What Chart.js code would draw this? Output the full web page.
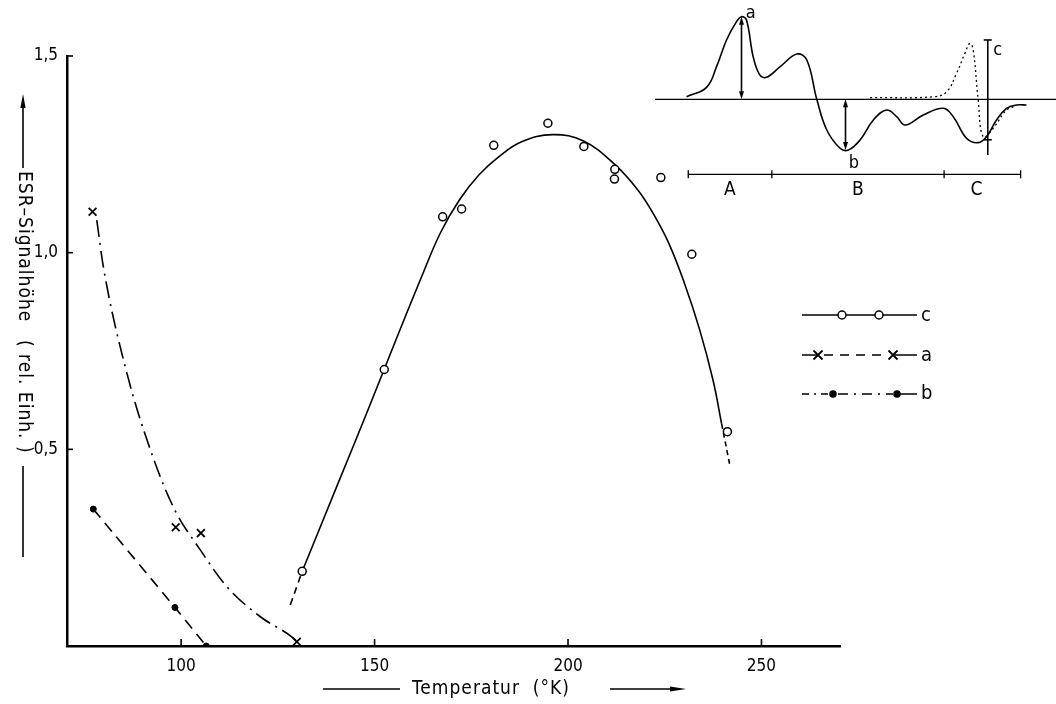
<!DOCTYPE html>
<html><head><meta charset="utf-8">
<script src="https://cdn.jsdelivr.net/npm/chart.js@4.4.1/dist/chart.umd.min.js"></script>
<style>
html,body{margin:0;padding:0;background:#fff;}
#wrap{position:relative;width:1056px;height:704px;background:#fff;}
#main{position:absolute;left:0;top:0;}
#inset{position:absolute;left:640px;top:0;pointer-events:none;}
</style></head><body>
<div id="wrap"><canvas id="main" width="1056" height="704"></canvas><canvas id="inset" width="416" height="200"></canvas></div>
<script>
const FONT = '"Liberation Sans Narrow","DejaVu Sans Condensed","Liberation Sans",Arial,sans-serif';

// ---- main chart data ----
const xTickValues = [100, 150, 200, 250];
const yTickValues = [0.5, 1.0, 1.5];

// series c (open circles)
const cTemp   = [131.3, 152.5, 167.6, 172.5, 180.8, 194.8, 204.1, 212.1, 212.0, 224.0, 232.0, 241.2];
const cSignal = [0.19, 0.703, 1.091, 1.111, 1.273, 1.329, 1.270, 1.212, 1.187, 1.191, 0.996, 0.545];
// fitted curve through c
const cFitTemp   = [131.3, 140, 148, 156, 162, 167, 172, 177, 182, 188, 196, 204, 212, 218, 222, 226, 230, 234, 237.5, 239.7];
const cFitSignal = [0.19, 0.40, 0.593, 0.79, 0.935, 1.05, 1.135, 1.198, 1.243, 1.282, 1.30, 1.284, 1.225, 1.16, 1.10, 1.025, 0.925, 0.805, 0.675, 0.565];
const cLowTemp = [128.2, 131.3],  cLowSignal = [0.104, 0.19];
const cHighTemp = [239.7, 241.9], cHighSignal = [0.565, 0.456];

// series a (crosses)
const aTemp   = [77.1, 98.6, 105.1, 129.9];
const aSignal = [1.104, 0.302, 0.287, 0.011];
const aCurveTemp   = [78.2, 79.9, 86.0, 92.8, 98.4, 104.9, 111.8, 120.4, 129.0, 130.5];
const aCurveSignal = [1.083, 0.964, 0.693, 0.478, 0.345, 0.245, 0.151, 0.075, 0.02, 0.005];

// series b (dots)
const bTemp   = [77.3, 98.4, 106.5];
const bSignal = [0.348, 0.098, 0.0];

const xy = (xs, ys) => xs.map((x, i) => ({x: x, y: ys[i]}));

const lineDs = (data, dash, extra) => Object.assign({
  data: data, showLine: true, pointRadius: 0, borderColor: '#000', borderWidth: 1.6,
  borderDash: dash, fill: false, order: 2, tension: 0.4
}, extra || {});

const mainData = {
  datasets: [
    lineDs(xy(cFitTemp, cFitSignal), []),
    lineDs(xy(cLowTemp, cLowSignal), [7, 5]),
    lineDs(xy(cHighTemp, cHighSignal), [5, 4]),
    lineDs(xy(aCurveTemp, aCurveSignal), [17, 6, 2, 6], {cubicInterpolationMode: 'monotone'}),
    lineDs(xy(bTemp, bSignal), [11, 7], {tension: 0}),
    {data: xy(cTemp, cSignal), showLine: false, pointStyle: 'circle', pointRadius: 4,
     pointBackgroundColor: '#fff', pointBorderColor: '#000', pointBorderWidth: 1.5, order: 0},
    {data: xy(aTemp, aSignal), showLine: false, pointStyle: 'crossRot', pointRadius: 5.5,
     pointBorderColor: '#000', pointBorderWidth: 1.8, order: 0},
    {data: xy(bTemp, bSignal), showLine: false, pointStyle: 'circle', pointRadius: 3,
     pointBackgroundColor: '#000', pointBorderColor: '#000', pointBorderWidth: 1, order: 0}
  ]
};

function arrowHead(ctx, x, y, dx, dy, len, hw) {
  const px = -dy, py = dx;
  ctx.beginPath();
  ctx.moveTo(x, y);
  ctx.lineTo(x - dx * len + px * hw, y - dy * len + py * hw);
  ctx.lineTo(x - dx * len - px * hw, y - dy * len - py * hw);
  ctx.closePath();
  ctx.fill();
}
function drawCross(ctx, x, y, r) {
  ctx.beginPath();
  ctx.moveTo(x - r, y - r); ctx.lineTo(x + r, y + r);
  ctx.moveTo(x - r, y + r); ctx.lineTo(x + r, y - r);
  ctx.stroke();
}
function drawCircle(ctx, x, y, r, fill) {
  ctx.beginPath(); ctx.arc(x, y, r, 0, Math.PI * 2);
  ctx.fillStyle = fill; ctx.fill(); ctx.stroke();
}
function seg(ctx, x1, y1, x2, y2, dash) {
  ctx.save(); ctx.setLineDash(dash || []);
  ctx.beginPath(); ctx.moveTo(x1, y1); ctx.lineTo(x2, y2); ctx.stroke();
  ctx.restore();
}

const decorPlugin = {
  id: 'decor',
  afterDraw(chart) {
    const ctx = chart.ctx, xs = chart.scales.x, ys = chart.scales.y, a = chart.chartArea;
    ctx.save();
    ctx.strokeStyle = '#000'; ctx.fillStyle = '#000'; ctx.lineWidth = 1.6;
    // inward tick marks
    xTickValues.forEach(v => { const p = xs.getPixelForValue(v); seg(ctx, p, a.bottom, p, a.bottom - 7); });
    yTickValues.forEach(v => { const p = ys.getPixelForValue(v); seg(ctx, a.left, p, a.left + 6, p); });

    // y title (rotated clockwise, reads top to bottom)
    const tx = 23;
    ctx.lineWidth = 1.6;
    seg(ctx, tx, 168, tx, 104);
    arrowHead(ctx, tx, 94, 0, -1, 14, 2.6);
    ctx.save();
    ctx.translate(tx + 1, 171); ctx.rotate(Math.PI / 2);
    ctx.font = '19px ' + FONT; ctx.textAlign = 'left'; ctx.textBaseline = 'middle';
    try { ctx.letterSpacing = '1px'; } catch (e) {}
    ctx.fillText('ESR–Signalhöhe', 0, 0);
    ctx.fillText('( rel. Einh. )', 169, 0);
    ctx.restore();
    seg(ctx, tx, 466, tx, 557);

    // x title
    const ty = 689;
    seg(ctx, 323, ty, 400, ty);
    ctx.save();
    ctx.font = '19px ' + FONT; ctx.textAlign = 'center'; ctx.textBaseline = 'middle';
    try { ctx.letterSpacing = '1px'; } catch (e) {}
    ctx.fillText('Temperatur  (°K)', 491, ty);
    ctx.restore();
    seg(ctx, 610, ty, 672, ty);
    arrowHead(ctx, 686, ty, 1, 0, 16, 2.4);

    // legend
    ctx.lineWidth = 1.5;
    const L0 = 802, L1 = 917;
    // c
    let y = 315;
    seg(ctx, L0, y, L1, y);
    drawCircle(ctx, 842, y, 4, '#fff'); drawCircle(ctx, 879, y, 4, '#fff');
    // a
    y = 355;
    seg(ctx, L0, y, 818, y);
    seg(ctx, 824, y, 888, y, [9, 7]);
    seg(ctx, 893, y, L1, y);
    ctx.lineWidth = 1.8; drawCross(ctx, 818, y, 4.5); drawCross(ctx, 893, y, 4.5); ctx.lineWidth = 1.5;
    // b
    y = 394;
    seg(ctx, L0, y, 833, y, [7, 5, 2, 5]);
    seg(ctx, 838, y, 893, y, [10, 6, 2, 6]);
    seg(ctx, 897, y, L1, y);
    drawCircle(ctx, 833, y, 3, '#000'); drawCircle(ctx, 897, y, 3, '#000');
    ctx.fillStyle = '#000';
    ctx.font = '20px ' + FONT; ctx.textAlign = 'left'; ctx.textBaseline = 'middle';
    ctx.fillText('c', 921, 316); ctx.fillText('a', 921, 356); ctx.fillText('b', 921, 394);
    ctx.restore();
  }
};

new Chart(document.getElementById('main'), {
  type: 'scatter',
  data: mainData,
  plugins: [decorPlugin],
  options: {
    responsive: false, animation: false, devicePixelRatio: 1,
    layout: {padding: {left: 0, right: 216, top: 56, bottom: 0}},
    plugins: {legend: {display: false}, tooltip: {enabled: false}},
    scales: {
      x: {
        type: 'linear', min: 70.5, max: 270.3,
        grid: {display: false},
        border: {display: true, color: '#000', width: 2.5},
        afterBuildTicks: s => { s.ticks = xTickValues.map(v => ({value: v})); },
        afterFit: s => { s.height = 58; },
        ticks: {color: '#000', font: {family: FONT, size: 17}, padding: 2, maxRotation: 0,
                callback: v => String(v)}
      },
      y: {
        type: 'linear', min: 0, max: 1.5,
        grid: {display: false},
        border: {display: true, color: '#000', width: 2.5},
        afterBuildTicks: s => { s.ticks = yTickValues.map(v => ({value: v})); },
        afterFit: s => { s.width = 67; },
        ticks: {color: '#000', font: {family: FONT, size: 17}, padding: 1,
                callback: v => v.toFixed(1).replace('.', ',')}
      }
    }
  }
});

// ---- inset (schematic spectrum) ----
const insetSolidU = [11.2, 16.0, 18.4, 20.8, 23.2, 24.4, 25.6, 27.2, 28.8, 30.4, 33.7, 37.7, 40.1, 42.5, 44.9, 48.1, 50.1, 52.9, 56.1, 59.3, 61.7, 63.7, 68.1, 72.9, 75.3, 78.5, 81.3, 83.3, 85.7, 88.1, 90.5, 92.9];
const insetSolidV = [0.03, 0.145, 0.395, 0.718, 0.94, 1.0, 0.96, 0.516, 0.294, 0.266, 0.395, 0.548, 0.476, 0.0, -0.372, -0.593, -0.614, -0.493, -0.25, -0.13, -0.21, -0.311, -0.19, -0.109, -0.21, -0.472, -0.525, -0.453, -0.25, -0.109, -0.069, -0.069];
const insetDottedU = [55.3, 70.5, 73.7, 76.1, 78.1, 79.3, 80.1, 81.3, 82.5, 84.9, 88.1, 90.5];
const insetDottedV = [0.02, 0.03, 0.09, 0.315, 0.557, 0.678, 0.597, -0.008, -0.453, -0.351, -0.13, -0.081];
const insetBaseU = [3.6, 100], insetBaseV = [0, 0];
const insetLabels = ['a', 'b', 'c'];
const insetRanges = ['A', 'B', 'C'];
const rangeTicksU = [11.6, 31.7, 73.1, 91.5];

const insetPlugin = {
  id: 'insetDecor',
  afterDraw(chart) {
    const ctx = chart.ctx, X = v => chart.scales.x.getPixelForValue(v), Y = v => chart.scales.y.getPixelForValue(v);
    ctx.save();
    ctx.strokeStyle = '#000'; ctx.fillStyle = '#000'; ctx.lineWidth = 1.6;
    // arrow a
    let x = X(24.4);
    seg(ctx, x, Y(0) - 6, x, Y(1.0) + 6);
    arrowHead(ctx, x, Y(1.0), 0, -1, 8, 2.5); arrowHead(ctx, x, Y(0), 0, 1, 8, 2.5);
    // arrow b
    x = X(49.4);
    seg(ctx, x, Y(0) + 6, x, Y(-0.614) - 6);
    arrowHead(ctx, x, Y(0), 0, -1, 8, 2.5); arrowHead(ctx, x, Y(-0.614), 0, 1, 8, 2.5);
    // c bar
    x = X(83.6);
    seg(ctx, x, Y(0.718), x, Y(-0.674));
    seg(ctx, x - 4, Y(0.718), x + 4, Y(0.718));
    seg(ctx, x - 4, Y(-0.49), x + 4, Y(-0.49));
    // range bar
    ctx.lineWidth = 1.3;
    const ry = Y(-0.908);
    seg(ctx, X(rangeTicksU[0]), ry, X(rangeTicksU[3]), ry);
    rangeTicksU.forEach(u => seg(ctx, X(u), ry - 4, X(u), ry + 4));
    // labels
    ctx.font = '18px ' + FONT; ctx.textAlign = 'center'; ctx.textBaseline = 'middle';
    ctx.fillText(insetLabels[0], X(26.6), Y(1.045));
    ctx.fillText(insetLabels[1], X(51.4), Y(-0.77));
    ctx.fillText(insetLabels[2], X(86.0), Y(0.597));
    ctx.font = '19px ' + FONT;
    ctx.fillText(insetRanges[0], X(21.6), Y(-1.098));
    ctx.fillText(insetRanges[1], X(52.4), Y(-1.098));
    ctx.fillText(insetRanges[2], X(80.9), Y(-1.098));
    ctx.restore();
  }
};

new Chart(document.getElementById('inset'), {
  type: 'scatter',
  data: {
    datasets: [
      {data: xy(insetBaseU, insetBaseV), showLine: true, pointRadius: 0, borderColor: '#000', borderWidth: 1.2, tension: 0},
      {data: xy(insetSolidU, insetSolidV), showLine: true, pointRadius: 0, borderColor: '#000', borderWidth: 1.6, tension: 0.4},
      {data: xy(insetDottedU, insetDottedV), showLine: true, pointRadius: 0, borderColor: '#000', borderWidth: 1.3, borderDash: [2, 3], tension: 0.4}
    ]
  },
  plugins: [insetPlugin],
  options: {
    responsive: false, animation: false, devicePixelRatio: 1,
    layout: {padding: 0},
    plugins: {legend: {display: false}, tooltip: {enabled: false}},
    scales: {
      x: {type: 'linear', display: false, min: 0, max: 100},
      y: {type: 'linear', display: false, min: -1.219, max: 1.202}
    }
  }
});
</script>
</body></html>
